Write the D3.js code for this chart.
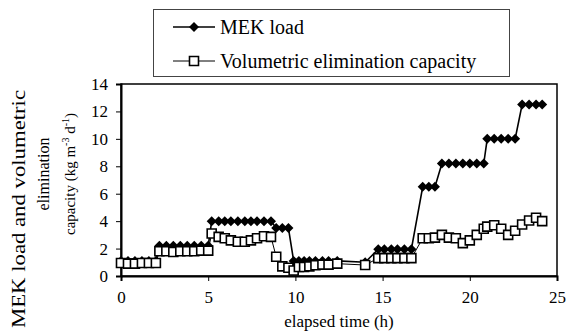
<!DOCTYPE html>
<html>
<head>
<meta charset="utf-8">
<script src="https://cdn.jsdelivr.net/npm/d3@7"></script>
<style>
  body { margin: 0; background: #fff; }
</style>
</head>
<body>
<div id="chart"></div>
<script>
// elapsed time of each sample (h)
const hours = [
  0, 0.4, 0.8, 1.2, 1.6, 2.0,
  2.2, 2.6, 3.0, 3.4, 3.8, 4.2, 4.6, 5.0,
  5.2, 5.6, 5.95, 6.3, 6.7, 7.1, 7.45, 7.8, 8.2, 8.6,
  8.9, 9.25, 9.6, 9.9,
  10.2, 10.5, 10.8, 11.15, 11.55, 11.9, 12.4,
  14.0,
  14.75, 15.1, 15.5, 15.85, 16.25, 16.65,
  17.3, 17.65, 18.0,
  18.4, 18.8, 19.2, 19.6, 20.0, 20.4, 20.8,
  21.0, 21.4, 21.8, 22.2, 22.6,
  23.0, 23.4, 23.8, 24.15
];
const mekLoad = [
  1.1, 1.1, 1.1, 1.1, 1.1, 1.1,
  2.2, 2.2, 2.2, 2.2, 2.2, 2.2, 2.2, 2.2,
  4.0, 4.0, 4.0, 4.0, 4.0, 4.0, 4.0, 4.0, 4.0, 4.0,
  3.5, 3.5, 3.5, 1.1,
  1.1, 1.1, 1.1, 1.1, 1.1, 1.1, 1.1,
  1.0,
  1.95, 1.95, 1.95, 1.95, 1.95, 1.95,
  6.5, 6.5, 6.5,
  8.2, 8.2, 8.2, 8.2, 8.2, 8.2, 8.2,
  10.0, 10.0, 10.0, 10.0, 10.0,
  12.5, 12.5, 12.5, 12.5
];
const capacity = [
  0.95, 0.9, 0.9, 0.95, 0.95, 0.95,
  1.8, 1.8, 1.75, 1.8, 1.8, 1.8, 1.85, 1.85,
  3.1, 2.85, 2.75, 2.6, 2.5, 2.5, 2.6, 2.75, 2.9, 2.85,
  1.4, 0.7, 0.6, 0.4,
  0.66, 0.66, 0.7, 0.78, 0.83, 0.83, 0.9,
  0.8,
  1.3, 1.3, 1.3, 1.3, 1.3, 1.3,
  2.75, 2.75, 2.8,
  3.0, 2.8, 2.75, 2.4, 2.6, 3.0, 3.45,
  3.6, 3.7, 3.45, 3.0, 3.3,
  3.75, 4.05, 4.25, 4.0
];
const xTicks = [0, 5, 10, 15, 20, 25];
const yTicks = [0, 2, 4, 6, 8, 10, 12, 14];
const seriesNames = ["MEK load", "Volumetric elimination capacity"];

const width = 567, height = 336;
const marginLeft = 121, marginRight = 10, marginTop = 84, marginBottom = 60;
const serif = "Liberation Serif, Times New Roman, Times, serif";

const x = d3.scaleLinear().domain([0, 25]).range([marginLeft, width - marginRight]);
const y = d3.scaleLinear().domain([0, 14]).range([height - marginBottom, marginTop]);

const svg = d3.select("#chart").append("svg")
    .attr("width", width)
    .attr("height", height)
    .attr("viewBox", [0, 0, width, height])
    .attr("font-family", serif);

const diamond = "M0,-5L5,0L0,5L-5,0Z";
const square = "M-4.5,-4.5H4.5V4.5H-4.5Z";

// plot frame
svg.append("rect")
    .attr("x", x(0)).attr("y", y(14))
    .attr("width", x(25) - x(0)).attr("height", y(0) - y(14))
    .attr("fill", "none").attr("stroke", "#000").attr("stroke-width", 1.5);

svg.append("g")
    .attr("transform", `translate(0,${y(0)})`)
    .call(d3.axisBottom(x).tickValues(xTicks).tickSize(5).tickPadding(10))
    .attr("font-family", serif).attr("font-size", 17)
    .call(g => g.select(".domain").attr("stroke-width", 2));

svg.append("g")
    .attr("transform", `translate(${x(0)},0)`)
    .call(d3.axisLeft(y).tickValues(yTicks).tickSize(5).tickPadding(8))
    .attr("font-family", serif).attr("font-size", 17)
    .call(g => g.select(".domain").attr("stroke-width", 2));

svg.append("text")
    .attr("x", (x(0) + x(25)) / 2)
    .attr("y", 327)
    .attr("text-anchor", "middle")
    .attr("font-size", 17)
    .text("elapsed time (h)");

// y label, three lines
const yl = svg.append("g").attr("text-anchor", "middle");
yl.append("text").attr("transform", "translate(25,209) rotate(-90)")
    .attr("font-size", 19)
    .attr("textLength", 238).attr("lengthAdjust", "spacingAndGlyphs")
    .text("MEK load and volumetric");
yl.append("text").attr("transform", "translate(49,174) rotate(-90)")
    .attr("font-size", 16).text("elimination");
const t3 = yl.append("text").attr("transform", "translate(75,174) rotate(-90)")
    .attr("font-size", 15);
t3.append("tspan").text("capacity (kg m");
t3.append("tspan").attr("font-size", 10).attr("dy", -6).text("-3");
t3.append("tspan").attr("dy", 6).text(" d");
t3.append("tspan").attr("font-size", 10).attr("dy", -6).text("-1");
t3.append("tspan").attr("dy", 6).text(")");

const pts = hours.map((h, i) => ({h, mek: mekLoad[i], cap: capacity[i]}));

// MEK load
svg.append("path")
    .datum(pts)
    .attr("fill", "none").attr("stroke", "#000").attr("stroke-width", 1.6)
    .attr("d", d3.line().x(d => x(d.h)).y(d => y(d.mek)));
svg.append("g").selectAll("path")
    .data(pts)
    .join("path")
    .attr("d", diamond)
    .attr("transform", d => `translate(${x(d.h)},${y(d.mek)})`)
    .attr("fill", "#000");

// elimination capacity
svg.append("path")
    .datum(pts)
    .attr("fill", "none").attr("stroke", "#000").attr("stroke-width", 1)
    .attr("d", d3.line().x(d => x(d.h)).y(d => y(d.cap)));
svg.append("g").selectAll("path")
    .data(pts)
    .join("path")
    .attr("d", square)
    .attr("transform", d => `translate(${x(d.h)},${y(d.cap)})`)
    .attr("fill", "#fff").attr("stroke", "#000").attr("stroke-width", 1.6);

// legend
const lg = svg.append("g");
lg.append("rect")
    .attr("x", 153.5).attr("y", 9.5).attr("width", 356).attr("height", 67)
    .attr("fill", "#fff").attr("stroke", "#444").attr("stroke-width", 1);
const rows = lg.selectAll("g.row")
    .data(seriesNames)
    .join("g")
    .attr("class", "row")
    .attr("transform", (d, i) => `translate(0,${i === 0 ? 27 : 61})`);
rows.append("line")
    .attr("x1", 173).attr("x2", 215)
    .attr("stroke", "#000").attr("stroke-width", (d, i) => i === 0 ? 1.6 : 1);
rows.append("path")
    .attr("d", (d, i) => i === 0 ? diamond : square)
    .attr("transform", "translate(194,0)")
    .attr("fill", (d, i) => i === 0 ? "#000" : "#fff")
    .attr("stroke", (d, i) => i === 0 ? "none" : "#000")
    .attr("stroke-width", 1.6);
rows.append("text")
    .attr("x", 220).attr("dy", 6.5)
    .attr("font-size", 20)
    .text(d => d);
</script>
</body>
</html>
